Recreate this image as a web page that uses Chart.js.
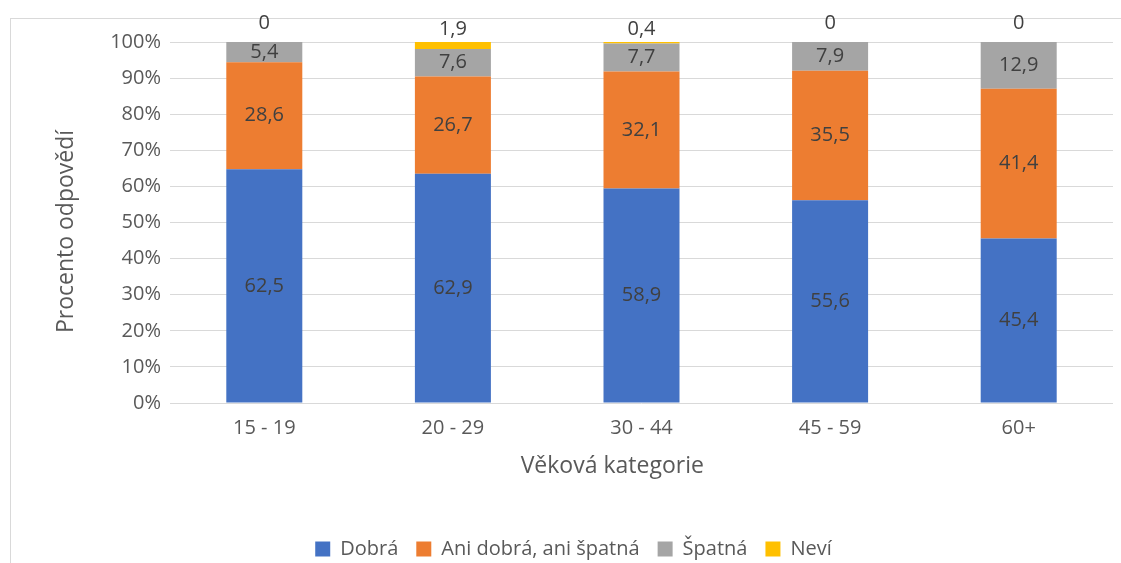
<!DOCTYPE html>
<html>
<head>
<meta charset="utf-8">
<script src="https://cdn.jsdelivr.net/npm/chart.js@4"></script>
<style>
html,body{margin:0;padding:0;background:#fff;}
#wrap{width:1121px;height:563px;position:relative;}
</style>
</head>
<body>
<div id="wrap"><canvas id="c" width="1121" height="563"></canvas></div>
<script>
const categories = ['15 - 19', '20 - 29', '30 - 44', '45 - 59', '60+'];
const seriesNames = ['Dobrá', 'Ani dobrá, ani špatná', 'Špatná', 'Neví'];
const dobra = [62.5, 62.9, 58.9, 55.6, 45.4];
const ani = [28.6, 26.7, 32.1, 35.5, 41.4];
const spatna = [5.4, 7.6, 7.7, 7.9, 12.9];
const nevi = [0, 1.9, 0.4, 0, 0];
const yTicks = [0, 10, 20, 30, 40, 50, 60, 70, 80, 90, 100];
const xTitle = 'Věková kategorie';
const yTitle = 'Procento odpovědí';
const colors = ['#4472C4', '#ED7D31', '#A5A5A5', '#FFC000'];

const raw = [dobra, ani, spatna, nevi];
const totals = categories.map((_, i) => raw.reduce((s, arr) => s + arr[i], 0));
const FONT = "'Open Sans', 'DejaVu Sans', sans-serif";

const datasets = raw.map((arr, k) => ({
  label: seriesNames[k],
  data: arr.map((v, i) => v / totals[i] * 100),
  rawValues: arr,
  backgroundColor: colors[k],
  borderWidth: 0,
  barPercentage: 0.403,
  categoryPercentage: 1.0
}));

const fmt = v => String(v).replace('.', ',');

const labelPlugin = {
  id: 'labels',
  afterDatasetsDraw(chart) {
    const ctx = chart.ctx;
    ctx.save();
    ctx.font = '20px ' + FONT;
    ctx.fillStyle = '#404040';
    ctx.textAlign = 'center';
    ctx.textBaseline = 'middle';
    chart.data.datasets.forEach((ds, k) => {
      const meta = chart.getDatasetMeta(k);
      meta.data.forEach((el, i) => {
        const v = ds.rawValues[i];
        if (k < 3) {
          ctx.fillText(fmt(v), el.x, (el.y + el.base) / 2);
        } else {
          const top = Math.min(el.y, el.base);
          ctx.fillText(fmt(v), el.x, top - (v > 0 ? 13 : 19));
        }
      });
    });
    ctx.restore();
  }
};

const framePlugin = {
  id: 'frame',
  beforeDraw(chart) {
    const ctx = chart.ctx;
    ctx.save();
    ctx.strokeStyle = '#d9d9d9';
    ctx.lineWidth = 1;
    ctx.strokeRect(10.5, 18.5, 1200, 700);
    ctx.restore();
  },
  afterDraw(chart) {
    const ctx = chart.ctx;
    const area = chart.chartArea;
    ctx.save();
    ctx.font = '23px ' + FONT;
    ctx.fillStyle = '#595959';
    ctx.textAlign = 'center';
    ctx.textBaseline = 'middle';
    ctx.fillText(xTitle, area.left + (area.right - area.left) * 0.469, area.bottom + 63);
    ctx.translate(66, (area.top + area.bottom) / 2 + 9);
    ctx.rotate(-Math.PI / 2);
    ctx.fillText(yTitle, 0, 0);
    ctx.restore();
  }
};

new Chart(document.getElementById('c'), {
  type: 'bar',
  data: { labels: categories, datasets },
  plugins: [framePlugin, labelPlugin],
  options: {
    responsive: false,
    animation: false,
    layout: { padding: { left: 34, right: 8, top: 42, bottom: 0 } },
    plugins: {
      tooltip: { enabled: false },
      legend: {
        position: 'bottom',
        maxHeight: 42,
        labels: {
          boxWidth: 15,
          boxHeight: 15,
          padding: 18,
          color: '#595959',
          font: { family: FONT, size: 20 }
        }
      }
    },
    scales: {
      x: {
        stacked: true,
        grid: { display: false },
        border: { display: false },
        ticks: { color: '#595959', padding: 5, font: { family: FONT, size: 20 } },
        afterFit(scale) { scale.height = 118; }
      },
      y: {
        stacked: true,
        min: 0,
        max: 100,
        afterBuildTicks(scale) { scale.ticks = yTicks.map(v => ({ value: v })); },
        grid: { color: '#d9d9d9', drawTicks: false, lineWidth: 1 },
        border: { display: false },
        ticks: {
          color: '#595959',
          padding: 9,
          font: { family: FONT, size: 20 },
          callback: v => v + '%'
        },
        afterFit(scale) { scale.width = 136; }
      }
    }
  }
});
</script>
</body>
</html>
